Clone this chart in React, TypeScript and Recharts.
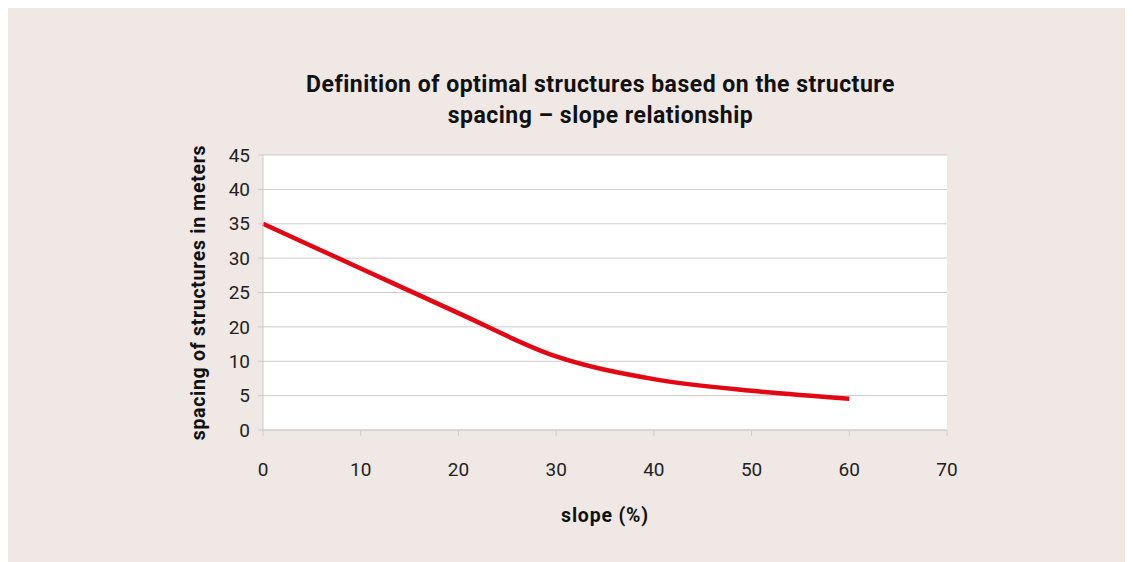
import React from "react";
import { CartesianGrid, Label, Line, LineChart, XAxis, YAxis } from "recharts";

// slope (%) along the x axis
const slopes = [0, 10, 20, 30, 40, 50, 60];
// spacing read against the evenly spaced gridlines (one step per gridline)
const spacing = [30, 23.5, 17, 10.7, 7.4, 5.7, 4.55];

const xTicks = [0, 10, 20, 30, 40, 50, 60, 70];
const yTicks = [0, 5, 10, 15, 20, 25, 30, 35, 40];
// labels as printed on the original (no "15")
const yTickLabels = ["0", "5", "10", "20", "25", "30", "35", "40", "45"];

const data = slopes.map((s, i) => ({ slope: s, spacing: spacing[i] }));

const font = "'Roboto', 'Open Sans', sans-serif";
const gridColor = "#cccccc";

export default function App() {
  return (
    <div
      style={{
        position: "relative",
        width: 1125,
        height: 554,
        background: "#efe8e5",
        fontFamily: font,
        overflow: "hidden",
      }}
    >
      <style>{`html,body{overflow:hidden}`}</style>
      <div
        style={{
          position: "absolute",
          left: 0,
          width: 1185,
          top: 61,
          textAlign: "center",
          fontWeight: 700,
          fontSize: 23,
          letterSpacing: 0.5,
          lineHeight: "31px",
          color: "#111",
        }}
      >
        Definition of optimal structures based on the structure
        <br />
        spacing – slope relationship
      </div>
      <LineChart
        width={1125}
        height={554}
        data={data}
        margin={{ top: 147, right: 186, bottom: 102, left: 195 }}
        style={{ position: "absolute", left: 0, top: 0 }}
      >
        <CartesianGrid vertical={false} stroke={gridColor} fill="#ffffff" />
        <XAxis
          dataKey="slope"
          type="number"
          domain={[0, 70]}
          ticks={xTicks}
          stroke={gridColor}
          tickSize={6}
          tickMargin={27}
          tick={{ fill: "#222", fontSize: 19, fontFamily: font }}
        >
          <Label
            value="slope (%)"
            position="insideBottom"
            offset={-62}
            style={{ fill: "#111", fontSize: 19.5, fontWeight: 700, letterSpacing: 0.8, fontFamily: font }}
          />
        </XAxis>
        <YAxis
          type="number"
          width={60}
          domain={[0, 40]}
          ticks={yTicks}
          interval={0}
          stroke={gridColor}
          tickSize={5}
          tickMargin={8}
          tickFormatter={(v: number) => yTickLabels[yTicks.indexOf(v)]}
          tick={{ fill: "#222", fontSize: 19, fontFamily: font }}
        >
          <Label
            value="spacing of structures in meters"
            angle={-90}
            position="center"
            dx={-35}
            style={{
              fill: "#111",
              fontSize: 19.5,
              fontWeight: 700,
              letterSpacing: 0.7,
              fontFamily: font,
              textAnchor: "middle",
            }}
          />
        </YAxis>
        <Line
          type="monotone"
          dataKey="spacing"
          stroke="#e30613"
          strokeWidth={4.5}
          dot={false}
          isAnimationActive={false}
        />
      </LineChart>
    </div>
  );
}
